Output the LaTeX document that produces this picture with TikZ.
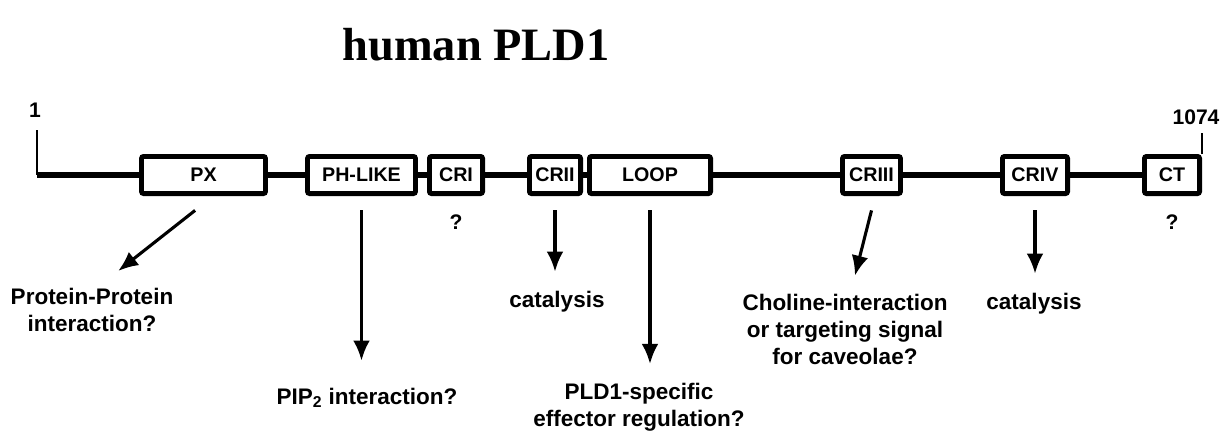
\documentclass[tikz,border=0pt]{standalone}
\usepackage{fontspec}
\setmainfont{Liberation Serif}
\setsansfont{Liberation Sans}
\usetikzlibrary{positioning,arrows.meta}

\begin{document}
\begin{tikzpicture}[x=0.025cm, y=-0.025cm]
  \tikzstyle{motif} = [rectangle, draw=black, line width=3.4pt, fill=white, minimum height=0.93cm, rounded corners=1.5pt, inner sep=1pt, font=\sffamily\bfseries\fontsize{14}{14}\selectfont]
  \tikzstyle{backbone} = [line width=3.6pt]
  \tikzstyle{terminus} = [line width=2pt]
  \tikzstyle{role} = [align=center, anchor=base, inner sep=2pt, font=\sffamily\bfseries\fontsize{16}{19}\selectfont]
  \tikzstyle{query} = [inner sep=2pt, font=\sffamily\bfseries\fontsize{15}{15}\selectfont]
  \tikzstyle{func} = [line width=2.2pt, shorten >=0.4cm, -{Latex[length=0.5cm, width=0.42cm]}]

  \useasboundingbox (0,0) rectangle (1229,435);

  \node[font=\bfseries\fontsize{33}{33}\selectfont] (title) at (476,45) {human PLD1};

  \node[motif, minimum width=3.1cm] (px) at (203.5,175) {PX};
  \node[motif, minimum width=2.7cm] (phlike) at (361.5,175) {PH-LIKE};
  \node[motif, minimum width=1.33cm] (cr1) at (456,175) {CRI};
  \node[motif, minimum width=1.28cm] (cr2) at (555,175) {CRII};
  \node[motif, minimum width=3.03cm] (loop) at (650,175) {LOOP};
  \node[motif, minimum width=1.45cm] (cr3) at (871.5,175) {CRIII};
  \node[motif, minimum width=1.63cm] (cr4) at (1035,175) {CRIV};
  \node[motif, minimum width=1.38cm] (ct) at (1172,175) {CT};

  \node[query] (n1) at (35,110) {1};
  \node[query] (n1074) at (1196,117) {1074};
  \node[query, below=0.4cm of cr1] (q1) {?};
  \node[query, below=0.4cm of ct] (q2) {?};

  \coordinate (nterm) at (37,130);
  \coordinate (cterm) at (1202,133);
  \draw[terminus] (nterm) -- (px.west -| nterm);
  \draw[backbone] (px.west -| nterm) -- (px.west);
  \draw[backbone] (px) -- (phlike);
  \draw[backbone] (phlike) -- (cr1);
  \draw[backbone] (cr1) -- (cr2);
  \draw[backbone] (cr2) -- (loop);
  \draw[backbone] (loop) -- (cr3);
  \draw[backbone] (cr3) -- (cr4);
  \draw[backbone] (cr4) -- (ct);
  \draw[terminus] (ct.north east) -- (ct.north east |- cterm);

  \node[role] (ppi) at (92,331) {Protein-Protein\\interaction?};
  \node[role] (pip) at (367,404) {PIP\textsubscript{2} interaction?};
  \node[role] (cat2) at (557,307) {catalysis};
  \node[role] (pldreg) at (639,426) {PLD1-specific\\effector regulation?};
  \node[role] (chol) at (845,364) {Choline-interaction\\or targeting signal\\for caveolae?};
  \node[role] (cat4) at (1034,309) {catalysis};

  \draw[func] ([xshift=-0.21cm, yshift=-0.36cm]px.south) -- ([xshift=0.34cm, yshift=0.1cm]ppi.north);
  \draw[func, shorten >=0.6cm] ([yshift=-0.36cm]phlike.south) -- (phlike.south |- pip.north);
  \draw[func] ([yshift=-0.36cm]cr2.south) -- (cr2.south |- cat2.north);
  \draw[func] ([yshift=-0.36cm]loop.south) -- (loop.south |- pldreg.north);
  \draw[func] ([yshift=-0.36cm]cr3.south) -- ([xshift=0.15cm]chol.north);
  \draw[func] ([yshift=-0.36cm]cr4.south) -- (cr4.south |- cat4.north);
\end{tikzpicture}
\end{document}
